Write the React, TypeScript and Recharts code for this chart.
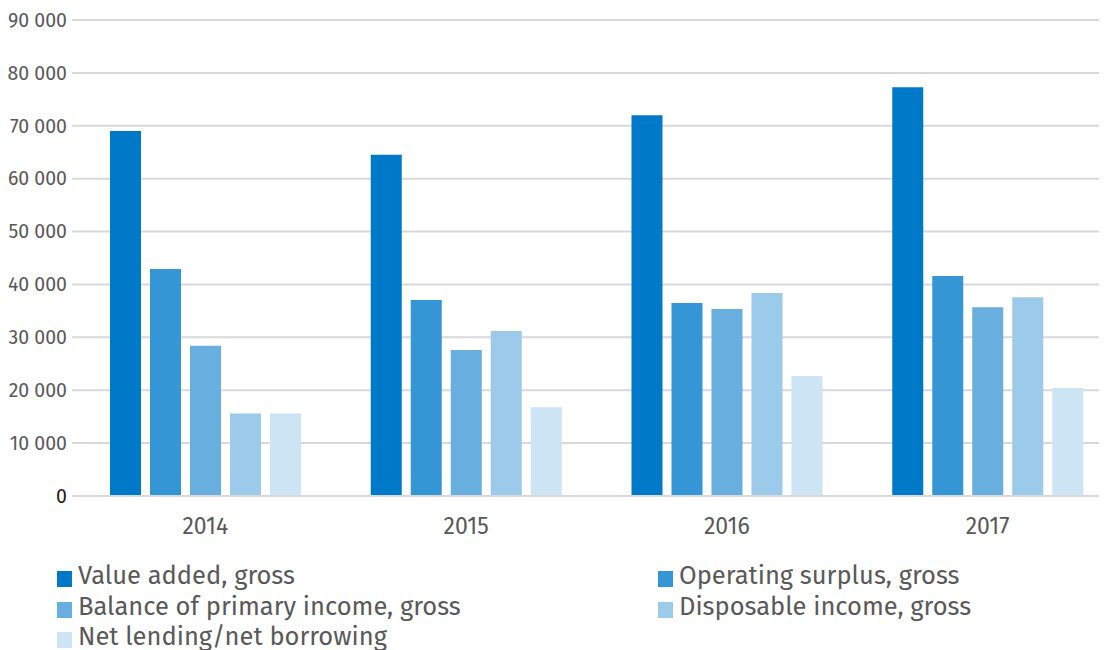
import React from "react";
import { BarChart, Bar, XAxis, YAxis, CartesianGrid } from "recharts";

const years = ["2014", "2015", "2016", "2017"];
const valueAdded = [69000, 64500, 72000, 77300];
const operatingSurplus = [42900, 37050, 36500, 41600];
const primaryIncome = [28400, 27600, 35350, 35700];
const disposableIncome = [15600, 31200, 38400, 37600];
const netLending = [15600, 16800, 22700, 20400];

const seriesNames = [
  "Value added, gross",
  "Operating surplus, gross",
  "Balance of primary income, gross",
  "Disposable income, gross",
  "Net lending/net borrowing",
];
const seriesColors = ["#0079C8", "#3596D6", "#68AEDE", "#9BCAEA", "#CDE4F4"];
const yTicks = [0, 10000, 20000, 30000, 40000, 50000, 60000, 70000, 80000, 90000];

const data = years.map((y, i) => ({
  year: y,
  s0: valueAdded[i],
  s1: operatingSurplus[i],
  s2: primaryIncome[i],
  s3: disposableIncome[i],
  s4: netLending[i],
}));

const FONT = "'Fira Sans', 'Open Sans', 'Noto Sans', sans-serif";
const fmt = (v: number) => String(v).replace(/\B(?=(\d{3})+(?!\d))/g, " ");

const YTick = (props: any) => {
  const { x, y, payload } = props;
  return (
    <text x={x + 1} y={y} dy="0.35em" textAnchor="end" fontSize={19.5} fontFamily={FONT}
      fill={payload.value === 0 ? "#1a1a1a" : "#595959"}>
      {fmt(payload.value)}
    </text>
  );
};

const legendCols = [
  [0, 2, 4],
  [1, 3],
];

const LegendBlock = () => (
  <div style={{ position: "absolute", left: 49, top: 553, width: 1000, height: 95, fontFamily: FONT }}>
    {legendCols.map((col, ci) =>
      col.map((si, ri) => (
        <div key={si} style={{ position: "absolute", left: ci === 0 ? 0 : 601, top: ri * 30.5, display: "flex", alignItems: "center", height: 30 }}>
          <div style={{ width: 15, height: 16, background: seriesColors[si], marginRight: 6, marginTop: 6 }} />
          <span style={{ fontSize: 25.5, lineHeight: "30px", color: "#595959", whiteSpace: "nowrap" }}>{seriesNames[si]}</span>
        </div>
      ))
    )}
  </div>
);

export default function App() {
  return (
    <div style={{ position: "relative", width: 1099, height: 642, overflow: "hidden" }}>
      <BarChart width={1112} height={642} data={data} margin={{ top: 12, right: 2, bottom: 114, left: 0 }}
        barSize={31} barGap={9}>
        <CartesianGrid horizontal vertical={false} stroke="#d9d9d9" strokeWidth={2} />
        <XAxis dataKey="year" axisLine={{ stroke: "#d9d9d9", strokeWidth: 2 }} tickLine={false} tickSize={0} tickMargin={22}
          padding={{ left: 3, right: 0 }} height={40}
          tick={{ fontSize: 23, fill: "#595959", fontFamily: FONT }} />
        <YAxis width={64} domain={[0, 90000]} ticks={yTicks} axisLine={false} tickLine={false} tickSize={0} tickMargin={6}
          tick={<YTick />} interval={0} />
        {seriesNames.map((n, i) => (
          <Bar key={n} dataKey={`s${i}`} name={n} fill={seriesColors[i]} isAnimationActive={false} />
        ))}
      </BarChart>
      <LegendBlock />
    </div>
  );
}
